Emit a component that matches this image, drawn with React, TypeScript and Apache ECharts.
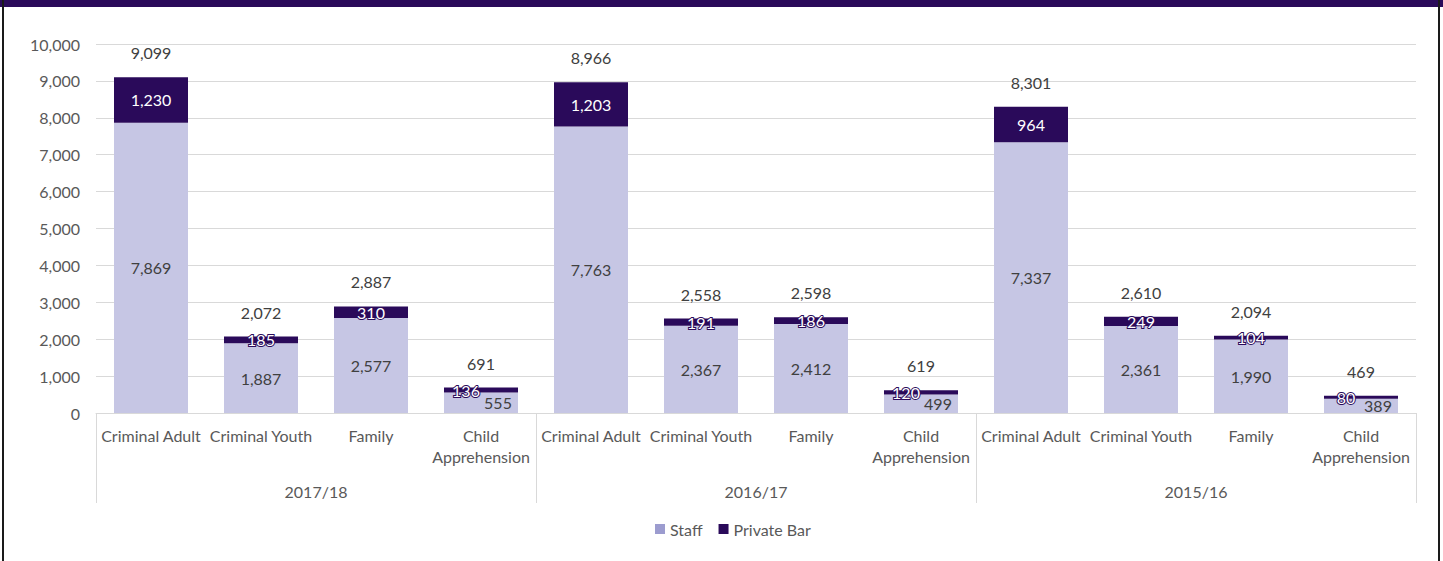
import React, { useEffect, useRef } from "react";
import * as echarts from "echarts";

const years = ["2017/18", "2016/17", "2015/16"];
const caseTypes = ["Criminal Adult", "Criminal Youth", "Family", "Child\nApprehension"];
const staff = [7869, 1887, 2577, 555, 7763, 2367, 2412, 499, 7337, 2361, 1990, 389];
const privateBar = [1230, 185, 310, 136, 1203, 191, 186, 120, 964, 249, 104, 80];
const yTicks = { min: 0, max: 10000, interval: 1000 };

const categories = years.flatMap(() => caseTypes);
const totals = staff.map((v, i) => v + privateBar[i]);

const FONT = "Lato";
const FS = 16;
const TEXT = "#595959";
const GRID = "#d9d9d9";
const STAFF_C = "#c6c6e4";
const PRIV_C = "#2a0a5a";
const fmt = (v: number) => v.toLocaleString("en-US");

export default function App() {
  const ref = useRef<HTMLDivElement>(null);
  useEffect(() => {
    if (!ref.current) return;
    const chart = echarts.init(ref.current, null, { renderer: "svg" });
    const isChild = (i: number) => i % 4 === 3;
    chart.setOption({
      animation: false,
      textStyle: { fontFamily: FONT },
      grid: { left: 96, right: 27, top: 44, bottom: 148 },
      legend: {
        bottom: 19,
        left: 650,
        icon: "rect",
        itemWidth: 10,
        itemHeight: 10,
        itemGap: 16,
        textStyle: { color: TEXT, fontSize: FS, fontFamily: FONT },
        data: [
          { name: "Staff", itemStyle: { color: "#9c9ccf" } },
          { name: "Private Bar", itemStyle: { color: PRIV_C } },
        ],
      },
      xAxis: [
        {
          type: "category",
          data: categories,
          axisLine: { lineStyle: { color: GRID, width: 1 } },
          axisTick: { show: false },
          axisLabel: {
            interval: 0,
            color: TEXT,
            fontSize: FS,
            fontFamily: FONT,
            margin: 12,
            lineHeight: 21,
          },
        },
        {
          type: "category",
          data: years,
          position: "bottom",
          axisLine: { show: false },
          axisTick: { show: true, length: 90, lineStyle: { color: GRID } },
          axisLabel: { color: TEXT, fontSize: FS, fontFamily: FONT, margin: 70 },
        },
      ],
      yAxis: {
        type: "value",
        min: yTicks.min,
        max: yTicks.max,
        interval: yTicks.interval,
        axisLine: { show: false },
        axisTick: { show: false },
        splitLine: { lineStyle: { color: GRID } },
        axisLabel: { color: TEXT, fontSize: FS, fontFamily: FONT, margin: 16, formatter: (v: number) => fmt(v) },
      },
      graphic: [
        { type: "rect", shape: { x: 0, y: 0, width: 1443, height: 7 }, style: { fill: PRIV_C } },
        { type: "rect", shape: { x: 2, y: 0, width: 2, height: 561 }, style: { fill: "#1a1a1a" } },
        { type: "rect", shape: { x: 1438, y: 0, width: 2, height: 561 }, style: { fill: "#1a1a1a" } },
      ],
      series: [
        {
          name: "Staff",
          type: "bar",
          stack: "t",
          barWidth: 74,
          itemStyle: { color: STAFF_C },
          label: {
            show: true,
            position: "inside",
            color: "#404040",
            fontSize: FS,
            fontFamily: FONT,
            formatter: (p: any) => fmt(p.value),
          },
          data: staff.map((v, i) =>
            isChild(i) ? { value: v, label: { offset: [17, 0] } } : v
          ),
        },
        {
          name: "Private Bar",
          type: "bar",
          stack: "t",
          barWidth: 74,
          itemStyle: { color: PRIV_C },
          label: {
            show: true,
            position: "inside",
            color: "#ffffff",
            fontSize: FS,
            fontFamily: FONT,
            textBorderColor: PRIV_C,
            textBorderWidth: 2,
            formatter: (p: any) => fmt(p.value),
          },
          data: privateBar.map((v, i) =>
            isChild(i) ? { value: v, label: { offset: [-15, 0] } } : v
          ),
        },
        {
          name: "Total",
          type: "line",
          symbol: "circle",
          symbolSize: 1,
          itemStyle: { color: "rgba(0,0,0,0)" },
          lineStyle: { opacity: 0 },
          label: {
            show: true,
            position: "top",
            distance: 16,
            color: "#404040",
            fontSize: FS,
            fontFamily: FONT,
            formatter: (p: any) => fmt(p.value),
          },
          data: totals,
        },
      ],
    });
    return () => chart.dispose();
  }, []);
  return (
    <div
      ref={ref}
      style={{ position: "fixed", left: 0, top: 0, width: 1443, height: 561, background: "#fff" }}
    />
  );
}
